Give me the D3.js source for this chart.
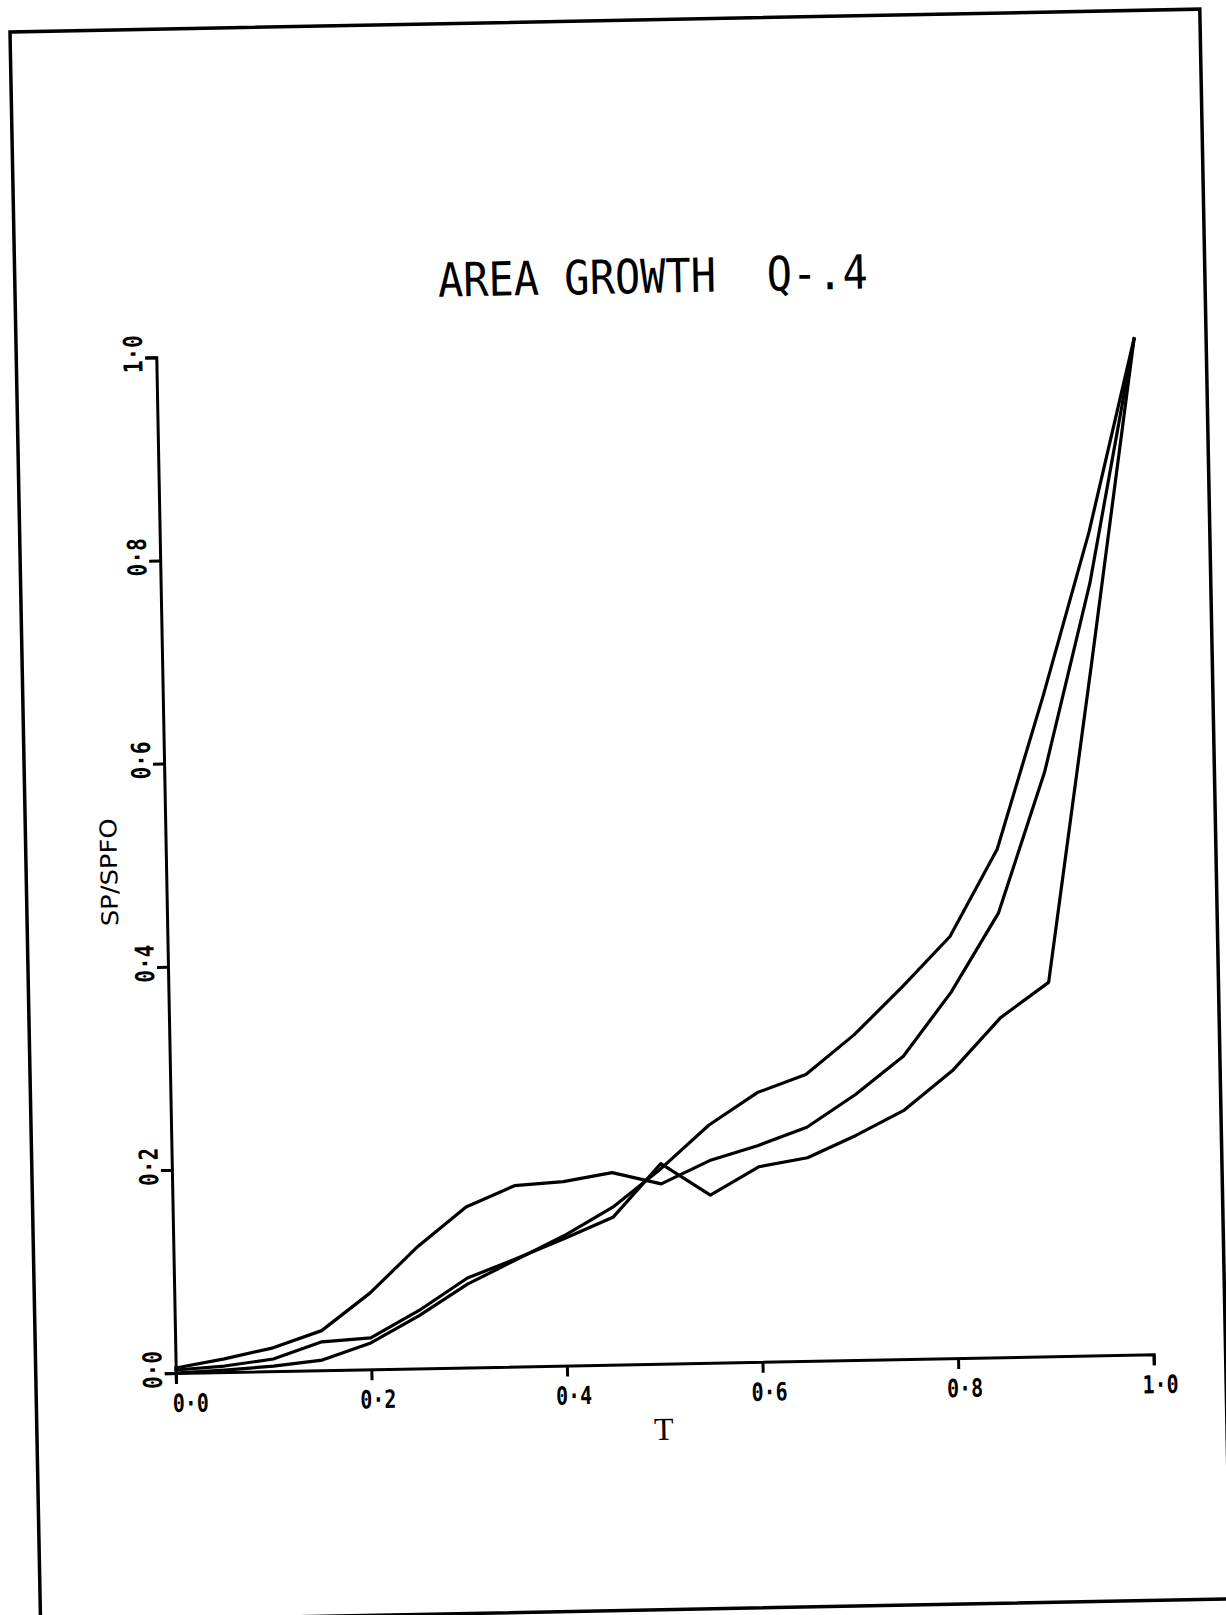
<!DOCTYPE html>
<html>
<head>
<meta charset="utf-8">
<script src="https://cdn.jsdelivr.net/npm/d3@7"></script>
<style>
  html, body { margin: 0; padding: 0; background: #fff; }
  svg { display: block; }
</style>
</head>
<body>
<div id="chart"></div>
<script>
// ---- data ----
const tValues = [0, 0.05, 0.1, 0.15, 0.2, 0.25, 0.3, 0.35, 0.4, 0.45, 0.5,
                 0.55, 0.6, 0.65, 0.7, 0.75, 0.8, 0.85, 0.9, 0.95, 1.0];
const seriesUpper  = [0.000, 0.002, 0.005, 0.010, 0.026, 0.052, 0.082, 0.105, 0.128, 0.155, 0.192,
                      0.234, 0.265, 0.282, 0.320, 0.366, 0.415, 0.500, 0.650, 0.810, 1.000];
const seriesMiddle = [0.005, 0.013, 0.023, 0.039, 0.075, 0.120, 0.158, 0.178, 0.181, 0.189, 0.177,
                      0.199, 0.213, 0.230, 0.261, 0.298, 0.360, 0.437, 0.575, 0.760, 1.000];
const seriesLower  = [0.003, 0.006, 0.012, 0.028, 0.031, 0.057, 0.088, 0.106, 0.125, 0.145, 0.197,
                      0.165, 0.192, 0.200, 0.221, 0.245, 0.283, 0.334, 0.368, 0.680, 1.000];
const xTicks = [0, 0.2, 0.4, 0.6, 0.8, 1.0];
const xTickLabels = ["0·0", "0·2", "0·4", "0·6", "0·8", "1·0"];
const yTicks = [0, 0.2, 0.4, 0.6, 0.8, 1.0];
const yTickLabels = ["0·0", "0·2", "0·4", "0·6", "0·8", "1·0"];
const titleText = "AREA GROWTH  Q-.4";
const xLabel = "T";
const yLabel = "SP/SPFO";

// ---- layout ----
const W = 1226, H = 1615;
const svg = d3.select("#chart").append("svg").attr("width", W).attr("height", H);
svg.append("rect").attr("width", W).attr("height", H).attr("fill", "#fff");

// the scanned page is slightly rotated
const g = svg.append("g").attr("transform", "rotate(-1.1,10,32)");

// page frame
g.append("rect").attr("x", 10).attr("y", 32).attr("width", 1190).attr("height", 1590)
  .attr("fill", "none").attr("stroke", "#000").attr("stroke-width", 3.5);

const x = d3.scaleLinear().domain([0, 1]).range([150, 1128]);
const y = d3.scaleLinear().domain([0, 1]).range([1376, 360]);

// axes
const xAxis = d3.axisBottom(x).tickValues(xTicks)
  .tickFormat((d, i) => xTickLabels[i]).tickSize(11).tickSizeOuter(11);
const yAxis = d3.axisLeft(y).tickValues(yTicks)
  .tickFormat((d, i) => yTickLabels[i]).tickSize(11).tickSizeOuter(11);

const gx = g.append("g").attr("transform", `translate(0,${y(0)})`).call(xAxis);
const gy = g.append("g").attr("transform", `translate(${x(0)},0)`).call(yAxis);

[gx, gy].forEach(a => {
  a.selectAll("path.domain").attr("stroke", "#000").attr("stroke-width", 3);
  a.selectAll(".tick line").attr("stroke", "#000").attr("stroke-width", 3);
});

gx.selectAll(".tick text")
  .attr("font-family", "DejaVu Sans Mono, monospace").attr("font-weight", "bold")
  .attr("font-size", 25).attr("fill", "#000")
  .attr("dy", null).attr("y", 39).attr("x", (d, i) => i === 0 ? 14 : 6)
  .attr("textLength", 36).attr("lengthAdjust", "spacingAndGlyphs");

gy.selectAll(".tick text")
  .attr("font-family", "DejaVu Sans Mono, monospace").attr("font-weight", "bold")
  .attr("font-size", 26).attr("fill", "#000")
  .attr("x", null).attr("dy", null)
  .attr("text-anchor", "middle")
  .attr("transform", "translate(-14,-4) rotate(-90)")
  .attr("textLength", 38).attr("lengthAdjust", "spacingAndGlyphs");

// curves
const line = d3.line().x((d, i) => x(tValues[i])).y(d => y(d)).curve(d3.curveLinear);
[seriesUpper, seriesMiddle, seriesLower].forEach(s => {
  g.append("path").datum(s).attr("d", line)
    .attr("fill", "none").attr("stroke", "#000").attr("stroke-width", 3.2)
    .attr("stroke-linejoin", "round").attr("stroke-linecap", "round");
});

// title
g.append("text").attr("x", 433).attr("y", 305)
  .attr("font-family", "DejaVu Sans Mono, monospace").attr("font-size", 47)
  .attr("fill", "#000").attr("xml:space", "preserve").style("white-space", "pre")
  .attr("textLength", 430).attr("lengthAdjust", "spacingAndGlyphs")
  .text(titleText);

// axis labels
g.append("text").attr("x", 637).attr("y", 1452).attr("text-anchor", "middle")
  .attr("font-family", "Liberation Serif, serif").attr("font-size", 32).attr("fill", "#000")
  .text(xLabel);

g.append("text").attr("transform", "translate(101,874) rotate(-90)").attr("text-anchor", "middle")
  .attr("font-family", "DejaVu Sans, sans-serif").attr("font-size", 23).attr("fill", "#000")
  .attr("textLength", 108).attr("lengthAdjust", "spacingAndGlyphs")
  .text(yLabel);
</script>
</body>
</html>
